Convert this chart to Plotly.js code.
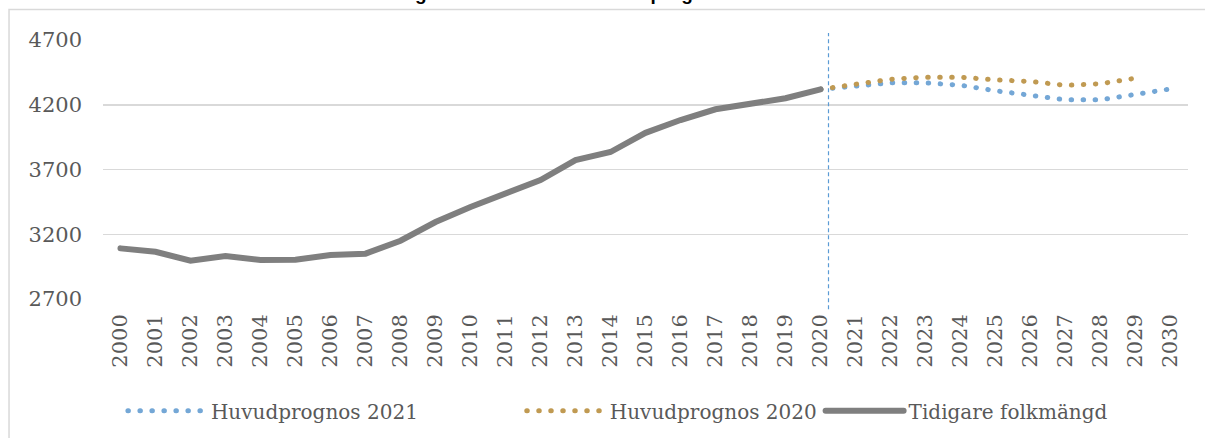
<!DOCTYPE html>
<html>
<head>
<meta charset="utf-8">
<script src="https://cdn.plot.ly/plotly-3.0.1.min.js"></script>
<style>
  html, body { margin: 0; padding: 0; background: #fff; }
  #chart { width: 1205px; height: 438px; }
  .js-line { stroke-linecap: round; }
</style>
</head>
<body>
<div id="chart"></div>
<script>
// år på x-axeln
var years = ["2000", "2001", "2002", "2003", "2004", "2005", "2006", "2007", "2008", "2009",
  "2010", "2011", "2012", "2013", "2014", "2015", "2016", "2017", "2018", "2019",
  "2020", "2021", "2022", "2023", "2024", "2025", "2026", "2027", "2028", "2029", "2030"];

// tidigare folkmängd 2000-2020
var folkYears = years.slice(0, 21);
var folkmangd = [3091, 3065, 2996, 3032, 3001, 3003, 3040, 3050, 3150, 3294,
  3410, 3511, 3619, 3773, 3835, 3983, 4082, 4165, 4203, 4250, 4319];

// huvudprognos 2021 (2020-2030)
var prog21Years = years.slice(20, 31);
var prog21 = [4319, 4346, 4369, 4369, 4351, 4308, 4277, 4238, 4238, 4277, 4322];

// huvudprognos 2020 (2020-2029)
var prog20Years = years.slice(20, 30);
var prog20 = [4319, 4354, 4397, 4413, 4413, 4392, 4380, 4350, 4362, 4405];

var yTicks = [2700, 3200, 3700, 4200, 4700];

var txtColor = "#595959";
var serif = "DejaVu Serif, Georgia, serif";

var data = [
  {
    x: prog21Years, y: prog21, type: "scatter", mode: "lines",
    name: "Huvudprognos 2021", legend: "legend",
    line: { color: "#74a7d6", width: 5, dash: "0.5px,11.5px" }
  },
  {
    x: prog20Years, y: prog20, type: "scatter", mode: "lines",
    name: "Huvudprognos 2020", legend: "legend2",
    line: { color: "#c09a52", width: 5, dash: "0.5px,11.5px" }
  },
  {
    x: folkYears, y: folkmangd, type: "scatter", mode: "lines",
    name: "Tidigare folkmängd", legend: "legend3",
    line: { color: "#7f7f7f", width: 6 }
  }
];

var legendBase = {
  orientation: "h", xref: "container", yref: "container",
  yanchor: "middle", y: 0.062, itemwidth: 78,
  font: { family: serif, size: 20, color: txtColor },
  bgcolor: "rgba(0,0,0,0)"
};

var layout = {
  width: 1205,
  height: 438,
  margin: { l: 103, r: 17, t: 40, b: 139 },
  paper_bgcolor: "#fff",
  plot_bgcolor: "#fff",
  showlegend: true,
  xaxis: {
    type: "category",
    categoryorder: "array",
    categoryarray: years,
    range: [-0.5, 30.5],
    tickangle: -90,
    tickfont: { family: serif, size: 21, color: txtColor },
    showgrid: false,
    zeroline: false,
    showline: false,
    ticks: "",
    ticklabelstandoff: 10,
    fixedrange: true
  },
  yaxis: {
    range: [2700, 4700],
    tickvals: yTicks,
    ticktext: yTicks.map(String),
    tickfont: { family: serif, size: 21, color: txtColor },
    gridcolor: "#d9d9d9",
    gridwidth: 1.5,
    zeroline: false,
    showline: false,
    ticks: "",
    ticklabelstandoff: 20,
    fixedrange: true
  },
  legend: Object.assign({}, legendBase, { x: 0.102, xanchor: "left" }),
  legend2: Object.assign({}, legendBase, { x: 0.433, xanchor: "left" }),
  legend3: Object.assign({}, legendBase, { x: 0.681, xanchor: "left" }),
  // diagramrubriken ligger till största delen ovanför bildkanten
  annotations: [
    {
      text: "Folkmängd 2000–2020 samt huvudprognoser 2020 och 2021",
      xref: "paper", yref: "paper", x: 0.465, y: 1.1313,
      xanchor: "center", yanchor: "bottom", showarrow: false,
      font: { family: "Liberation Sans, Arial, sans-serif", size: 19, color: "#000", weight: "bold" }
    }
  ],
  shapes: [
    // ram runt diagrammet
    {
      type: "rect", xref: "paper", yref: "paper",
      x0: -0.0866, x1: 1.02, y0: -0.56, y1: 1.118,
      line: { color: "#d9d9d9", width: 1.5 }, layer: "below"
    },
    // prognosstart
    {
      type: "line", xref: "x", yref: "paper",
      x0: 20.2286, x1: 20.2286, y0: -0.04, y1: 1.027,
      line: { color: "#5b9bd5", width: 1.2, dash: "4px,3px" }
    }
  ]
};

Plotly.newPlot("chart", data, layout, { displayModeBar: false, staticPlot: true });
</script>
</body>
</html>
